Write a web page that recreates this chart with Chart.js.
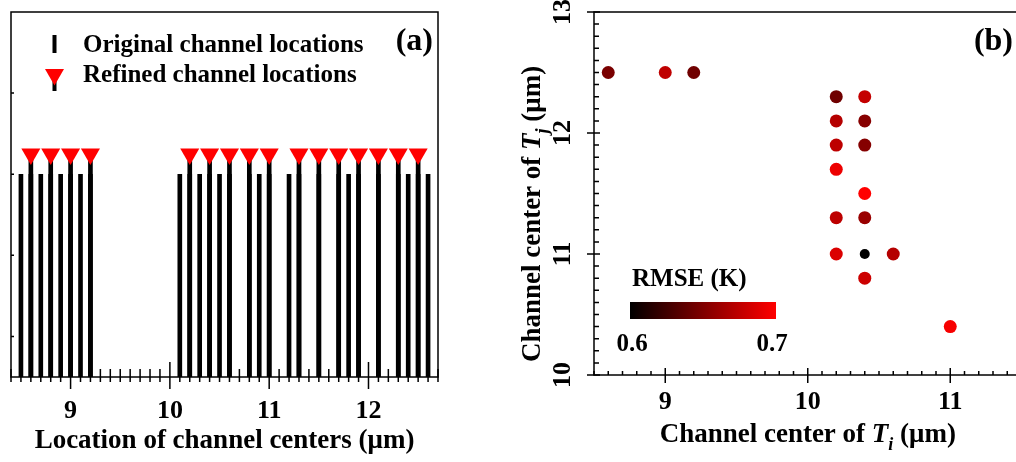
<!DOCTYPE html>
<html>
<head>
<meta charset="utf-8">
<script src="https://cdn.jsdelivr.net/npm/chart.js@4.4.1/dist/chart.umd.min.js"></script>
<style>
  html, body { margin: 0; padding: 0; background: #fff; width: 1016px; height: 462px; overflow: hidden; }
  #left { position: absolute; left: 0; top: 0; }
  #right { position: absolute; left: 480px; top: 0; }
</style>
</head>
<body>
<canvas id="left" width="480" height="462"></canvas>
<canvas id="right" width="560" height="462"></canvas>
<script>
// panel (a): channel locations (um)
var originalLocations = [8.5, 8.6, 8.7, 8.8, 8.9, 9.0, 9.1, 9.2, 10.1, 10.2, 10.3, 10.4, 10.5, 10.6, 10.8, 10.9, 11.0, 11.2, 11.3, 11.5, 11.7, 11.8, 11.9, 12.1, 12.3, 12.4, 12.5, 12.6]
var refinedLocations = [8.6, 8.8, 9.0, 9.2, 10.2, 10.4, 10.6, 10.8, 11.0, 11.3, 11.5, 11.7, 11.9, 12.1, 12.3, 12.5]
var originalHeight = 1.0
var refinedHeight = 1.1
var locationTicks = [9, 10, 11, 12]
var heightTicks = [0.2, 0.6, 1.0, 1.4]

// panel (b): channel pairs and their RMSE (K)
var centerTi = [8.6, 9.0, 9.2, 10.2, 10.4, 10.2, 10.4, 10.2, 10.4, 10.2, 10.4, 10.2, 10.4, 10.2, 10.4, 10.6, 10.4, 11.0]
var centerTj = [12.5, 12.5, 12.5, 12.3, 12.3, 12.1, 12.1, 11.9, 11.9, 11.7, 11.5, 11.3, 11.3, 11.0, 11.0, 11.0, 10.8, 10.4]
var rmse = [0.648, 0.675, 0.644, 0.644, 0.677, 0.671, 0.653, 0.674, 0.652, 0.693, 0.700, 0.674, 0.660, 0.686, 0.600, 0.671, 0.680, 0.697]
var tiTicks = [9, 10, 11]
var tjTicks = [10, 11, 12, 13]
var rmseRange = [0.6, 0.7]

var FONT = '"Liberation Serif", "Times New Roman", serif'

function rmseColor(v) {
  var t = (v - rmseRange[0]) / (rmseRange[1] - rmseRange[0])
  t = Math.max(0, Math.min(1, t))
  return 'rgb(' + Math.round(255 * t) + ',0,0)'
}

// fixed axis sizes, no extra room for overhanging labels
function fixSize(w, h) {
  return function (s) {
    if (w != null) s.width = w
    if (h != null) s.height = h
    s.paddingTop = 0
    s.paddingBottom = 0
    s.paddingLeft = 0
    s.paddingRight = 0
  }
}

// box + ticks that cross the axis line
function drawFrame(chart, o) {
  var ctx = chart.ctx, a = chart.chartArea, xs = chart.scales.x, ys = chart.scales.y
  ctx.save()
  ctx.strokeStyle = '#000'
  ctx.lineWidth = 1.5
  ctx.strokeRect(a.left, a.top, a.right - a.left, a.bottom - a.top)
  ctx.beginPath()
  for (var i = Math.ceil(xs.min * 10 - 1e-6); i <= Math.floor(xs.max * 10 + 1e-6); i++) {
    var px = xs.getPixelForValue(i / 10)
    if (i % 10 === 0) { ctx.moveTo(px, a.bottom - o.xMajor[0]); ctx.lineTo(px, a.bottom + o.xMajor[1]) }
    else { ctx.moveTo(px, a.bottom - o.xMinor[0]); ctx.lineTo(px, a.bottom + o.xMinor[1]) }
  }
  if (o.yEvery) {
    for (var j = Math.ceil(ys.min * 10 - 1e-6); j <= Math.floor(ys.max * 10 + 1e-6); j++) {
      var py = ys.getPixelForValue(j / 10)
      if (j % 10 === 0) { ctx.moveTo(a.left - o.yMajor[1], py); ctx.lineTo(a.left + o.yMajor[0], py) }
      else { ctx.moveTo(a.left, py); ctx.lineTo(a.left + o.yMinor[0], py) }
    }
  } else {
    ys.ticks.forEach(function (t) {
      var py = ys.getPixelForValue(t.value)
      ctx.moveTo(a.left, py); ctx.lineTo(a.left + o.yMinor[0], py)
    })
  }
  ctx.stroke()
  ctx.restore()
}

function drawRich(ctx, parts, x, y) {
  var total = 0
  parts.forEach(function (p) { ctx.font = p.font; p.w = ctx.measureText(p.text).width; total += p.w })
  var cx = x - total / 2
  parts.forEach(function (p) { ctx.font = p.font; ctx.fillText(p.text, cx, y + (p.dy || 0)); cx += p.w })
}

var leftDecor = {
  id: 'leftDecor',
  afterDraw: function (chart) {
    var ctx = chart.ctx, a = chart.chartArea
    drawFrame(chart, { xMajor: [15, 12], xMinor: [8, 5], yMinor: [3] })
    ctx.save()
    ctx.fillStyle = '#000'
    // legend
    var lx = a.left + 43.5
    ctx.fillRect(lx - 2, a.top + 23, 4, 18)
    ctx.fillRect(lx - 2, a.top + 68, 4, 11)
    ctx.fillStyle = '#ff0000'
    ctx.beginPath()
    ctx.moveTo(lx, a.top + 73.5)
    ctx.lineTo(lx - 9.5, a.top + 57)
    ctx.lineTo(lx + 9.5, a.top + 57)
    ctx.closePath()
    ctx.fill()
    ctx.fillStyle = '#000'
    ctx.textBaseline = 'alphabetic'
    ctx.textAlign = 'left'
    ctx.font = 'bold 25px ' + FONT
    ctx.fillText('Original channel locations', a.left + 72, a.top + 40)
    ctx.fillText('Refined channel locations', a.left + 72, a.top + 70)
    ctx.textAlign = 'right'
    ctx.font = 'bold 32px ' + FONT
    ctx.fillText('(a)', a.right - 5, a.top + 38)
    ctx.restore()
  }
}

var rightDecor = {
  id: 'rightDecor',
  afterDraw: function (chart) {
    var ctx = chart.ctx, a = chart.chartArea
    drawFrame(chart, { xMajor: [7, 8], xMinor: [4, 0], yEvery: true, yMajor: [6, 7], yMinor: [5] })
    ctx.save()
    ctx.fillStyle = '#000'
    ctx.textBaseline = 'alphabetic'
    // axis titles with italic T and subscript
    var big = 'bold 27px ' + FONT, it = 'italic bold 27px ' + FONT, sub = 'italic bold 18px ' + FONT
    drawRich(ctx, [
      { text: 'Channel center of ', font: big },
      { text: 'T', font: it },
      { text: 'i', font: sub, dy: 8 },
      { text: ' (\u03bcm)', font: big }
    ], (a.left + a.right) / 2, 442)
    ctx.save()
    ctx.translate(60, 214)
    ctx.rotate(-Math.PI / 2)
    drawRich(ctx, [
      { text: 'Channel center of ', font: big },
      { text: 'T', font: it },
      { text: 'j', font: sub, dy: 8 },
      { text: ' (\u03bcm)', font: big }
    ], 0, 0)
    ctx.restore()
    // panel label
    ctx.textAlign = 'right'
    ctx.font = 'bold 32px ' + FONT
    ctx.fillText('(b)', 533, a.top + 38)
    // colour bar
    var x0 = a.left + 36, x1 = a.left + 182, y0 = a.top + 290, y1 = a.top + 307
    var g = ctx.createLinearGradient(x0, 0, x1, 0)
    g.addColorStop(0, rmseColor(rmseRange[0]))
    g.addColorStop(1, rmseColor(rmseRange[1]))
    ctx.fillStyle = g
    ctx.fillRect(x0, y0, x1 - x0, y1 - y0)
    ctx.fillStyle = '#000'
    ctx.textAlign = 'left'
    ctx.font = 'bold 25px ' + FONT
    ctx.fillText('RMSE (K)', x0 + 2, a.top + 274)
    ctx.textAlign = 'center'
    ctx.fillText(rmseRange[0].toFixed(1), x0 + 2, a.top + 339)
    ctx.fillText(rmseRange[1].toFixed(1), x1 - 4, a.top + 339)
    ctx.restore()
  }
}

var tickFont = { family: FONT, size: 26, weight: 'bold' }

new Chart(document.getElementById('left'), {
  type: 'bar',
  data: {
    datasets: [
      {
        type: 'scatter',
        label: 'Refined channel locations',
        data: refinedLocations.map(function (x) { return { x: x, y: refinedHeight } }),
        pointStyle: 'triangle',
        rotation: 180,
        pointRadius: 11,
        backgroundColor: '#ff0000',
        borderWidth: 0,
        order: 0
      },
      {
        label: 'Refined bars',
        data: refinedLocations.map(function (x) { return { x: x, y: refinedHeight } }),
        backgroundColor: '#000',
        barThickness: 4,
        grouped: false,
        order: 1
      },
      {
        label: 'Original channel locations',
        data: originalLocations.map(function (x) { return { x: x, y: originalHeight } }),
        backgroundColor: '#000',
        barThickness: 4,
        grouped: false,
        order: 2
      }
    ]
  },
  options: {
    responsive: false,
    animation: false,
    events: [],
    layout: { padding: { left: 0, top: 12, right: 42, bottom: 0 } },
    plugins: { legend: { display: false }, tooltip: { enabled: false } },
    scales: {
      x: {
        type: 'linear',
        offset: false,
        min: 8.4,
        max: 12.7,
        afterBuildTicks: function (s) { s.ticks = locationTicks.map(function (v) { return { value: v } }) },
        afterFit: fixSize(null, 85),
        grid: { display: false, drawTicks: false, offset: false },
        border: { display: false },
        ticks: { font: tickFont, color: '#000', padding: 18.5, autoSkip: false, maxRotation: 0 },
        title: {
          display: true,
          text: 'Location of channel centers (\u03bcm)',
          font: { family: FONT, size: 27, weight: 'bold' },
          color: '#000',
          padding: { top: 0, bottom: 5 }
        }
      },
      y: {
        type: 'linear',
        min: 0,
        max: 1.8,
        afterBuildTicks: function (s) { s.ticks = heightTicks.map(function (v) { return { value: v } }) },
        afterFit: fixSize(11, null),
        grid: { display: false, drawTicks: false },
        border: { display: false },
        ticks: { display: false }
      }
    }
  },
  plugins: [leftDecor]
})

new Chart(document.getElementById('right'), {
  type: 'scatter',
  data: {
    datasets: [{
      label: 'RMSE (K)',
      data: centerTi.map(function (x, i) { return { x: x, y: centerTj[i] } }),
      backgroundColor: function (c) { return rmseColor(rmse[c.dataIndex]) },
      pointRadius: function (c) { return rmse[c.dataIndex] <= rmseRange[0] ? 5 : 6.5 },
      borderWidth: 0
    }]
  },
  options: {
    responsive: false,
    animation: false,
    events: [],
    layout: { padding: { left: 0, top: 12, right: 18.5, bottom: 0 } },
    plugins: { legend: { display: false }, tooltip: { enabled: false } },
    scales: {
      x: {
        type: 'linear',
        min: 8.5,
        max: 11.5,
        afterBuildTicks: function (s) { s.ticks = tiTicks.map(function (v) { return { value: v } }) },
        afterFit: fixSize(null, 87),
        grid: { display: false, drawTicks: false },
        border: { display: false },
        ticks: { font: tickFont, color: '#000', padding: 11.5, autoSkip: false, maxRotation: 0 }
      },
      y: {
        type: 'linear',
        min: 10,
        max: 13,
        afterBuildTicks: function (s) { s.ticks = tjTicks.map(function (v) { return { value: v } }) },
        afterFit: fixSize(114, null),
        grid: { display: false, drawTicks: false },
        border: { display: false },
        ticks: { font: tickFont, color: '#000', padding: 18, autoSkip: false, minRotation: 90, maxRotation: 90, crossAlign: 'center' }
      }
    }
  },
  plugins: [rightDecor]
})
</script>
</body>
</html>
